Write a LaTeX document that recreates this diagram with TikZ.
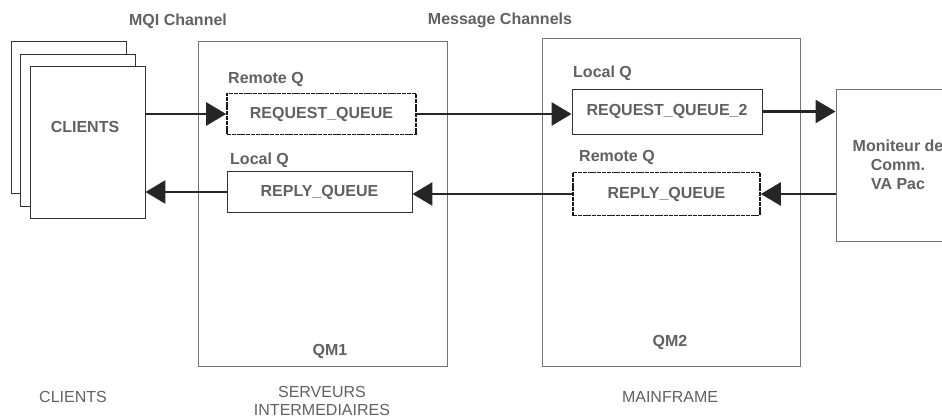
\documentclass[tikz,border=0pt]{standalone}
\usepackage{fontspec}
\setmainfont{Liberation Sans}
\usetikzlibrary{arrows.meta}
\begin{document}
\begin{tikzpicture}[x=1pt,y=-1pt,
    txt/.style={text=black!62,inner sep=0pt,font=\fontsize{16}{18}\selectfont},
    bold/.style={txt,font=\fontsize{16}{19}\selectfont\bfseries},
    sheet/.style={draw=black!80,fill=white,line width=0.9pt,minimum width=115pt,minimum height=152pt,inner sep=0pt},
    qmbox/.style={draw=black!55,line width=1pt,inner sep=0pt},
    queue/.style={bold,draw=black!80,line width=0.9pt,minimum height=41pt},
    rqueue/.style={queue,draw=black!90,line width=1.7pt,dash pattern=on 4pt off 0.8pt},
    flow/.style={draw=black!85,line width=2.7pt,-{Triangle[length=20pt,width=23pt]}}]
  \clip (0,0) rectangle (942,420);
  % clients stack
  \node[sheet] (back) at (69,117.5) {}; \node[sheet] (mid) at (78,130) {};
  \node[sheet] (front) at (87.5,142) {}; \node[bold] (clients) at (85,127) {CLIENTS};
  % queue managers and monitor
  \node[qmbox,minimum width=249pt,minimum height=324pt] (qm1) at (322.5,204) {};
  \node[qmbox,minimum width=258pt,minimum height=327pt] (qm2) at (671,202.5) {};
  \node[qmbox,bold,align=center,minimum width=124pt,minimum height=152pt] (mon) at (898,165)
    {Moniteur de\\Comm.\\VA Pac};
  % queues
  \node[rqueue,minimum width=189pt] (rq1) at (321.5,114) {REQUEST\_QUEUE};
  \node[queue,minimum width=185pt] (rp1) at (319.5,192) {REPLY\_QUEUE};
  \node[queue,minimum width=190pt,minimum height=45pt] (rq2) at (667,111.5) {REQUEST\_QUEUE\_2};
  \node[rqueue,minimum width=187pt,minimum height=43pt] (rp2) at (666.5,194) {REPLY\_QUEUE};
  \node[bold,anchor=west] (rem1) at (228,79) {Remote Q};
  \node[bold,anchor=west] (loc1) at (230,160) {Local Q};
  \node[bold,anchor=west] (loc2) at (573,73) {Local Q};
  \node[bold,anchor=west] (rem2) at (579,157) {Remote Q};
  \node[bold] (qm1lbl) at (330,351) {QM1}; \node[bold] (qm2lbl) at (670,342) {QM2};
  % titles
  \node[bold] (mqi) at (178,21) {MQI Channel};
  \node[bold] (msgch) at (500,20) {Message Channels};
  \node[txt] (lclients) at (73,397) {CLIENTS};
  \node[txt,align=center] (lserv) at (322,401) {SERVEURS\\INTERMEDIAIRES};
  \node[txt] (lmain) at (670,397) {MAINFRAME};
  % flows
  \draw[flow] (front.east |- rq1) -- (rq1.west);
  \draw[flow] (rq1.east) -- (rq1.east -| rq2.west);
  \draw[flow] (rq2.east) -- (rq2.east -| mon.west);
  \draw[flow] (mon.west |- rp2) -- (rp2.east);
  \draw[flow] (rp2.west) -- (rp2.west -| rp1.east);
  \draw[flow] (rp1.west) -- (rp1.west -| front.east);
\end{tikzpicture}
\end{document}
